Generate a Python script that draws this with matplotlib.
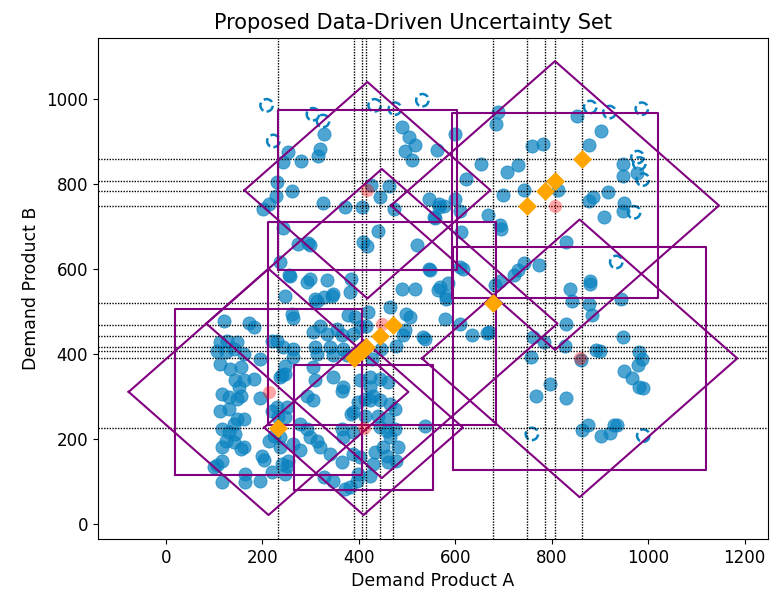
import matplotlib.pyplot as plt
import numpy as np

# In-sample demand observations (product A, product B)
demand_a = [
    328, 254, 320, 316, 280, 242, 489, 504, 516, 495, 511, 599, 562,
    231, 262, 229, 215, 202, 325, 371, 407, 425, 463, 444, 473, 545, 566, 576, 558,
    599, 622, 613, 244, 275, 295, 299, 408, 418, 440, 520, 545, 256, 298, 334, 383,
    489, 568, 585, 609, 237, 258,
    689, 685, 852, 902, 878, 760, 782, 654, 708, 731, 742, 814, 700, 949, 949, 978,
    916, 877, 885, 909, 951, 949, 566, 556, 609, 668, 692, 696, 830, 742, 730, 773,
    616, 547, 880, 723,
    564, 582, 682, 692, 839, 880, 842, 878, 883, 944, 578, 611, 635, 665, 671, 537,
    761, 785, 829, 827, 758, 861, 891, 901, 949, 982, 987, 980, 951, 966, 982, 990,
    796, 768, 830, 537, 863, 875, 903, 921, 930, 936,
    120, 172, 182, 113, 127, 148, 107, 124, 141, 162, 220, 231, 196, 113, 134, 155,
    144, 162, 182, 151, 117, 131, 148, 155, 196, 241, 113, 131, 220, 148, 162, 141,
    117, 131, 144, 124, 117, 141, 155, 162, 213, 224, 200, 203, 117, 107, 100, 165,
    196, 220, 117, 165, 231, 233, 237, 237, 241,
    247, 292, 309, 327, 344, 382, 516, 582, 261, 264, 378, 392, 420, 465, 499, 506,
    320, 306, 334, 354, 365, 389, 402, 416, 496, 491, 533, 244, 264, 264, 309, 313,
    340, 347, 368, 375, 447, 478, 427, 247, 237, 247, 306, 347, 309, 368, 365, 402,
    423, 444, 461, 423, 430, 292, 306, 251, 247, 399, 413, 423, 444, 465, 475, 385,
    389, 413, 440, 461, 278, 292, 365, 368, 389, 444, 458, 475, 465, 299, 313, 320,
    278, 264, 254, 251, 340, 365, 389, 402, 433, 451, 458, 482, 478, 461, 430, 247,
    327, 347, 399, 423, 396, 371, 382, 347, 313,
]
demand_b = [
    919, 876, 882, 866, 856, 852, 935, 911, 892, 878, 858, 919, 880,
    805, 783, 772, 754, 741, 756, 746, 746, 799, 796, 770, 742, 766, 746, 750, 721,
    766, 813, 687, 698, 660, 661, 656, 664, 654, 690, 658, 601, 587, 576, 574, 578,
    554, 558, 567, 605, 617, 585,
    970, 943, 960, 925, 893, 889, 896, 847, 829, 846, 786, 787, 774, 847, 819, 826,
    782, 760, 770, 724, 757, 738, 754, 723, 738, 728, 703, 695, 664, 615, 597, 609,
    601, 599, 573, 587,
    550, 530, 562, 573, 554, 566, 526, 518, 493, 530, 483, 470, 446, 449, 451, 436,
    440, 428, 470, 419, 394, 385, 410, 407, 440, 404, 389, 375, 360, 343, 322, 321,
    330, 301, 296, 230, 222, 232, 208, 214, 234, 234,
    479, 473, 465, 428, 432, 428, 408, 404, 412, 401, 432, 430, 389, 377, 365, 369,
    338, 338, 342, 322, 306, 298, 295, 302, 296, 350, 267, 271, 267, 247, 247, 236,
    224, 216, 212, 196, 181, 192, 177, 181, 196, 208, 161, 151, 149, 139, 133, 118,
    102, 122, 98, 98, 275, 251, 204, 181, 141,
    538, 569, 530, 534, 538, 546, 554, 538, 495, 486, 491, 487, 499, 511, 495, 487,
    467, 452, 448, 460, 444, 448, 463, 467, 456, 444, 440, 416, 412, 393, 416, 401,
    416, 397, 412, 397, 412, 420, 389, 373, 346, 354, 369, 346, 338, 322, 314, 338,
    346, 342, 334, 322, 302, 302, 291, 275, 251, 287, 295, 291, 291, 283, 271, 259,
    263, 255, 255, 247, 236, 224, 224, 204, 216, 228, 220, 224, 204, 204, 196, 181,
    173, 189, 149, 137, 165, 145, 165, 157, 169, 181, 161, 181, 149, 145, 141, 118,
    110, 102, 118, 114, 102, 82, 86, 542, 526,
]

# Observations that fall outside every set
outside_a = [209, 305, 326, 223, 433, 475, 532, 880, 920, 987, 978, 982, 989, 971, 934, 759, 990]
outside_b = [986, 965, 949, 902, 986, 978, 998, 982, 970, 978, 864, 849, 811, 734, 617, 212, 208]

# Cluster centres with their box half-widths and diamond (L1) radii
centre_a = [418, 807, 448, 213, 410, 858]
centre_b = [786, 750, 472, 311, 227, 390]
box_half_a = [186, 214, 236, 193, 144, 263]
box_half_b = [188, 217, 239, 195, 148, 263]
l1_radius = [255, 340, 364, 290, 206, 327]

# Worst-case points (shown with guide lines)
worst_a = [232, 391, 406, 415, 444, 471, 678, 749, 786, 807, 862]
worst_b = [227, 391, 408, 416, 443, 469, 520, 750, 785, 808, 859]

blue = '#0a82c0'

fig = plt.figure(figsize=(7.7, 6), dpi=100)
ax = fig.add_axes([0.127, 0.102, 0.870, 0.835])

ax.scatter(demand_a, demand_b, s=90, color=blue, alpha=0.72,
           edgecolors=blue, linewidths=0.6, zorder=2)
ax.scatter(outside_a, outside_b, s=80, facecolors='none', edgecolors=blue,
           linewidths=1.8, linestyle='--', zorder=2)

for xa in worst_a:
    ax.axvline(xa, color='black', linestyle=(0, (1, 1)), linewidth=1, zorder=3)
for yb in worst_b:
    ax.axhline(yb, color='black', linestyle=(0, (1, 1)), linewidth=1, zorder=3)

# Box and diamond around every centre
for cx, cy, hx, hy, r in zip(centre_a, centre_b, box_half_a, box_half_b, l1_radius):
    bx = [cx - hx, cx + hx, cx + hx, cx - hx, cx - hx]
    by = [cy - hy, cy - hy, cy + hy, cy + hy, cy - hy]
    ax.plot(bx, by, color='purple', linewidth=1.5, zorder=3)
    dx = [cx - r, cx, cx + r, cx, cx - r]
    dy = [cy, cy + r, cy, cy - r, cy]
    ax.plot(dx, dy, color='purple', linewidth=1.5, zorder=3)

ax.scatter(centre_a, centre_b, s=90, color='red', alpha=0.35, linewidths=0, zorder=4)
ax.scatter(worst_a, worst_b, s=75, marker='D', color='orange', zorder=4)

ax.set_xlim(-141, 1248)
ax.set_ylim(-35, 1145)
ax.set_xticks([0, 200, 400, 600, 800, 1000, 1200])
ax.set_yticks([0, 200, 400, 600, 800, 1000])
ax.tick_params(labelsize=12)
ax.set_xlabel('Demand Product A', fontsize=12.5)
ax.set_ylabel('Demand Product B', fontsize=12.5)
ax.set_title('Proposed Data-Driven Uncertainty Set', fontsize=15, x=0.47)

fig.savefig('out.png', dpi=100)
